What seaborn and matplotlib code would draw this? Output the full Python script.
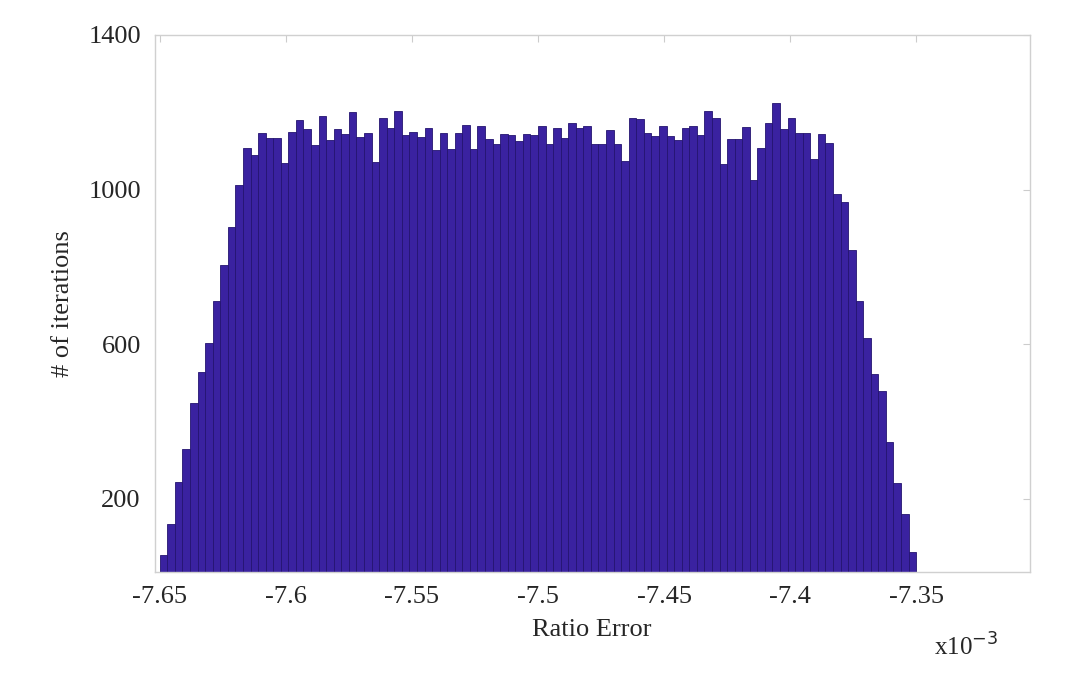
import matplotlib

matplotlib.use("Agg")
import matplotlib.pyplot as plt
import numpy as np
import pandas as pd
import seaborn as sns

# Histogram counts, 100 bins from -7.65e-3 to -7.35e-3
counts = [
    55, 134, 244, 329, 448, 529, 604, 711, 804, 902,
    1013, 1108, 1089, 1145, 1132, 1134, 1069, 1150, 1179, 1156,
    1115, 1191, 1128, 1156, 1143, 1201, 1137, 1147, 1071, 1186,
    1158, 1202, 1140, 1150, 1137, 1160, 1101, 1145, 1106, 1145,
    1168, 1104, 1165, 1130, 1117, 1143, 1141, 1126, 1143, 1141,
    1163, 1117, 1158, 1132, 1172, 1160, 1165, 1117, 1117, 1154,
    1117, 1073, 1186, 1182, 1147, 1139, 1165, 1139, 1128, 1160,
    1163, 1140, 1204, 1186, 1067, 1130, 1130, 1161, 1024, 1108,
    1172, 1224, 1156, 1184, 1146, 1146, 1078, 1143, 1121, 989,
    969, 843, 713, 616, 522, 479, 347, 242, 160, 62,
]
bin_start = -7.65
bin_stop = -7.35
xticks = [-7.65, -7.6, -7.55, -7.5, -7.45, -7.4, -7.35]
xtick_labels = ["-7.65", "-7.6", "-7.55", "-7.5", "-7.45", "-7.4", "-7.35"]
yticks = [200, 600, 1000, 1400]

edges = np.linspace(bin_start, bin_stop, len(counts) + 1)
df = pd.DataFrame({"ratio": (edges[:-1] + edges[1:]) / 2, "count": counts})

sns.set_style("white")
plt.rcParams["font.family"] = ["Liberation Serif", "DejaVu Serif"]

fig = plt.figure(figsize=(10.67, 6.83), dpi=100)
ax = fig.add_axes([0.145, 0.163, 0.82, 0.786])

sns.histplot(
    data=df,
    x="ratio",
    weights="count",
    bins=len(counts),
    binrange=(bin_start, bin_stop),
    color="#3a22a0",
    alpha=1.0,
    edgecolor="#241470",
    linewidth=0.6,
    ax=ax,
)

ax.set_xlim(-7.652, -7.305)
ax.set_ylim(12, 1400)
ax.set_xticks(xticks)
ax.set_xticklabels(xtick_labels)
ax.set_yticks(yticks)
ax.tick_params(axis="both", labelsize=19, direction="in", length=5,
               color="#cccccc", top=True, right=True, pad=10)
for s in ax.spines.values():
    s.set_color("#d0d0d0")
    s.set_linewidth(1)
ax.set_xlabel("Ratio Error", fontsize=19, labelpad=8)
ax.set_ylabel("# of iterations", fontsize=19, labelpad=10)
fig.text(0.875, 0.04, r"x10$^{-3}$", fontsize=18)

fig.savefig("out.png", dpi=100)
